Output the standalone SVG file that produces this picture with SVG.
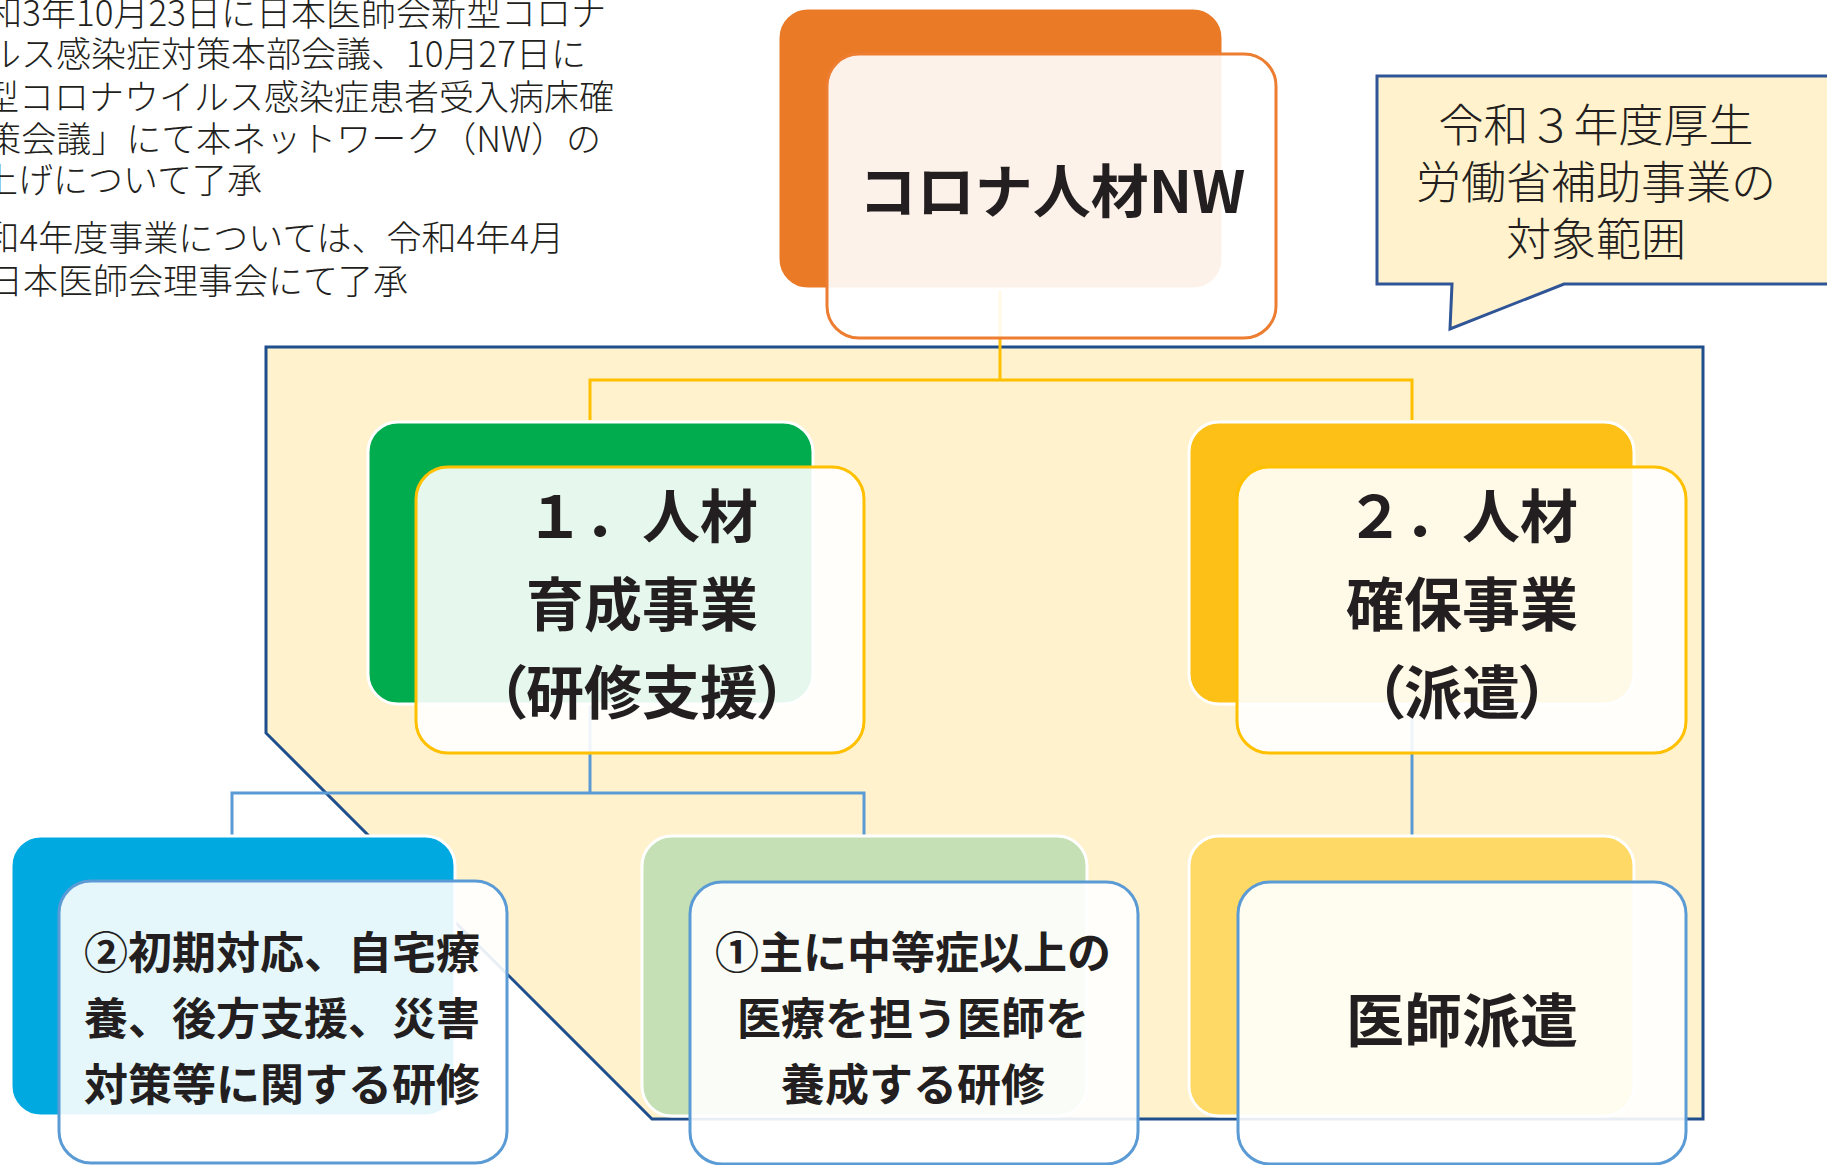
<svg xmlns="http://www.w3.org/2000/svg" width="1827" height="1165" viewBox="0 0 1827 1165">
<defs>
<style>
.t{font-family:"Noto Sans CJK JP","Noto Sans CJK SC",sans-serif;fill:#231F20}
.l{font-weight:300}
.b{font-weight:700}
.m{text-anchor:middle}
.e{text-anchor:end}
.palt{font-feature-settings:"palt" 1}
.back{stroke:#ffffff;stroke-width:3}
.front{fill:#ffffff;fill-opacity:0.9;stroke-width:3}
.conn{fill:none;stroke-width:3}
.y{stroke:#FFC000}
.bl{stroke:#5B9BD5}
</style>
</defs>
<rect x="0" y="0" width="1827" height="1165" fill="#ffffff"/>

<g id="notes" class="t l e" font-size="35">
<text x="606" y="26">和3年10月23日に日本医師会新型コロナ</text>
<text x="586" y="67">ルス感染症対策本部会議、10月27日に</text>
<text x="614" y="110">型コロナウイルス感染症患者受入病床確</text>
<text x="601" y="152">策会議」にて本ネットワーク（NW）の</text>
<text x="262" y="193">上げについて了承</text>
<text x="564" y="251">和4年度事業については、令和4年4月</text>
<text x="408" y="294">日本医師会理事会にて了承</text>
</g>

<g id="callout">
<path d="M1840,76 H1377 V284 H1452 L1450,329 L1564,284 H1840 Z" fill="#FFF2CC" stroke="#2F5597" stroke-width="3"/>
<g class="t l m" font-size="45">
<text x="1596" y="142">令和３年度厚生</text>
<text x="1596" y="199">労働省補助事業の</text>
<text x="1596" y="256">対象範囲</text>
</g>
</g>

<g id="scope">
<path d="M266,347 H1703 V1119 H652 L266,733 Z" fill="#FFF2CC" stroke="#1F4E8C" stroke-width="3"/>
</g>

<g id="connectors" class="conn">
<path class="y" d="M1000,289 V380"/>
<path class="y" d="M590,420 V380 H1412 V420"/>
<path class="bl" d="M590,705 V793"/>
<path class="bl" d="M232,836 V793 H864 V836"/>
<path class="bl" d="M1412,705 V836"/>
</g>

<g id="node-top">
<rect class="back" x="778" y="8" width="445" height="281" rx="30" fill="#EB7A26"/>
<rect class="front" x="827" y="54" width="449" height="284" rx="32" stroke="#ED7D31"/>
<text class="t b m" x="1052" y="213" font-size="58">コロナ人材NW</text>
</g>

<g id="node-training">
<rect class="back" x="368" y="422" width="445" height="282" rx="30" fill="#00AC4E"/>
<rect class="front" x="416" y="467" width="448" height="286" rx="32" stroke="#FFC000"/>
<g class="t b m" font-size="58">
<text x="642" y="538">１．人材</text>
<text x="642" y="626">育成事業</text>
<text class="palt" x="642" y="714">（研修支援）</text>
</g>
</g>

<g id="node-dispatch">
<rect class="back" x="1189" y="422" width="445" height="282" rx="30" fill="#FDC017"/>
<rect class="front" x="1237" y="467" width="449" height="286" rx="32" stroke="#FFC000"/>
<g class="t b m" font-size="58">
<text x="1462" y="538">２．人材</text>
<text x="1462" y="626">確保事業</text>
<text class="palt" x="1462" y="714">（派遣）</text>
</g>
</g>

<g id="leaf-initial">
<rect class="back" x="11" y="836" width="444" height="280" rx="30" fill="#00A9E0"/>
<rect class="front" x="59" y="881" width="448" height="282" rx="32" stroke="#5B9BD5"/>
<g class="t b m" font-size="44">
<text x="282" y="969">②初期対応、自宅療</text>
<text x="282" y="1035">養、後方支援、災害</text>
<text x="282" y="1101">対策等に関する研修</text>
</g>
</g>

<g id="leaf-moderate">
<rect class="back" x="642" y="836" width="445" height="280" rx="30" fill="#C5E0B4"/>
<rect class="front" x="690" y="882" width="448" height="282" rx="32" stroke="#5B9BD5"/>
<g class="t b m" font-size="44">
<text x="913" y="969">①主に中等症以上の</text>
<text x="913" y="1035">医療を担う医師を</text>
<text x="913" y="1101">養成する研修</text>
</g>
</g>

<g id="leaf-doctor">
<rect class="back" x="1189" y="836" width="445" height="280" rx="30" fill="#FFD966"/>
<rect class="front" x="1238" y="882" width="448" height="282" rx="32" stroke="#5B9BD5"/>
<text class="t b m" x="1462" y="1042" font-size="58">医師派遣</text>
</g>
</svg>
